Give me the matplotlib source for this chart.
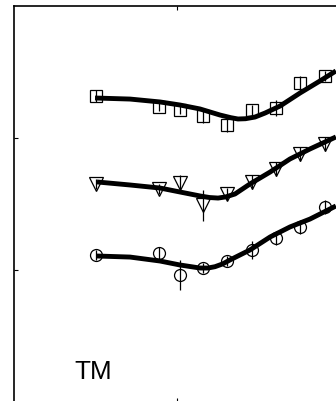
import matplotlib
matplotlib.use("Agg")
import matplotlib.pyplot as plt

# measured points (x in arbitrary units, y offset per series)
x_pts = [0.503, 0.890, 1.018, 1.160, 1.307, 1.460, 1.607, 1.755, 1.908]

sq_y = [2.318, 2.235, 2.212, 2.167, 2.098, 2.212, 2.227, 2.417, 2.470]
sq_err = [0.045, 0.03, 0.03, 0.05, 0.055, 0.035, 0.06, 0.055, 0.04]

tri_y = [1.652, 1.614, 1.659, 1.492, 1.576, 1.667, 1.765, 1.879, 1.955]
tri_err = [0.04, 0.04, 0.06, 0.117, 0.045, 0.05, 0.05, 0.05, 0.05]

cir_y = [1.114, 1.129, 0.962, 1.015, 1.068, 1.152, 1.242, 1.326, 1.477]
cir_err = [0.04, 0.045, 0.11, 0.04, 0.04, 0.07, 0.05, 0.05, 0.05]

# fitted curves
fit_x = [0.497, 0.712, 0.896, 1.018, 1.141, 1.264, 1.330, 1.374, 1.420, 1.479,
         1.540, 1.632, 1.755, 1.877, 1.975]
sq_fit = [2.303, 2.295, 2.273, 2.250, 2.220, 2.174, 2.154, 2.144, 2.146, 2.159,
          2.189, 2.242, 2.341, 2.432, 2.508]

tri_fit_x = [0.509, 0.712, 0.896, 1.018, 1.141, 1.200, 1.252, 1.300, 1.356, 1.448,
             1.571, 1.693, 1.816, 1.975]
tri_fit = [1.667, 1.644, 1.621, 1.591, 1.561, 1.549, 1.545, 1.554, 1.576, 1.652,
           1.742, 1.841, 1.917, 2.008]

cir_fit_x = [0.509, 0.712, 0.896, 1.018, 1.141, 1.190, 1.233, 1.280, 1.325, 1.448,
             1.571, 1.693, 1.816, 1.975]
cir_fit = [1.106, 1.098, 1.068, 1.038, 1.015, 1.015, 1.025, 1.046, 1.076, 1.152,
           1.250, 1.326, 1.386, 1.485]

fig = plt.figure(figsize=(3.36, 4.02), dpi=100)
ax = fig.add_axes([14 / 336, -1 / 402, 326 / 336, 396 / 402])

line_kw = dict(color="black", lw=3.5, solid_capstyle="butt", solid_joinstyle="round")
ax.plot(fit_x, sq_fit, **line_kw)
ax.plot(tri_fit_x, tri_fit, **line_kw)
ax.plot(cir_fit_x, cir_fit, **line_kw)

style = dict(color="black", ls="none", mfc="none", mec="black", mew=0.9,
             elinewidth=0.9, capsize=0)
ax.errorbar(x_pts, sq_y, yerr=sq_err, fmt="s", ms=8, **style)
ax.errorbar(x_pts, tri_y, yerr=tri_err, fmt="v", ms=10.5, **style)
ax.errorbar(x_pts, cir_y, yerr=cir_err, fmt="o", ms=8.6, **style)

ax.text(0.368, 0.182, "TM", fontsize=18.7, family="Liberation Sans",
        ha="left", va="baseline")

ax.set_xlim(0, 2)
ax.set_ylim(0, 3)
ax.set_xticks([1])
ax.set_yticks([1, 2])
ax.tick_params(direction="in", length=3, width=0.8, top=True, right=True,
               labelbottom=False, labelleft=False)
for s in ax.spines.values():
    s.set_linewidth(1.2)

fig.savefig("out.png", dpi=100)
